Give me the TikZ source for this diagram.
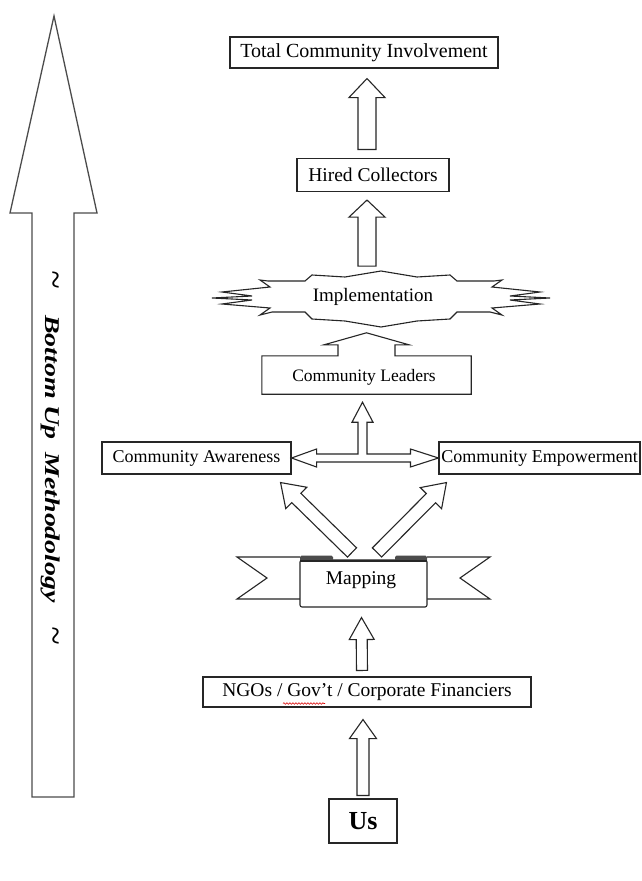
\documentclass[tikz,border=0pt]{standalone}
\usepackage{fontspec}
\setmainfont{Liberation Serif}
\usetikzlibrary{calc,decorations.pathmorphing}
\newcommand\fsz[1]{\fontsize{#1}{#1}\selectfont}
\newcommand\blockarrow[6]{%
  \coordinate (#6-s) at ($(#2)!#5!(#1)$);
  \draw[blk] ($(#1)!#3!90:(#2)$) -- ($(#6-s)!#3!90:(#2)$) -- ($(#6-s)!#4!90:(#2)$) -- (#2)
    -- ($(#6-s)!#4!-90:(#2)$) -- ($(#6-s)!#3!-90:(#2)$) -- ($(#1)!#3!-90:(#2)$) -- cycle;}
\tikzset{
  box/.style={draw=black!85, line width=1.1pt, fill=white, inner sep=0pt},
  plain/.style={inner sep=0pt},
  blk/.style={draw=black!85, line width=1.1pt, fill=white, line join=miter},
  big/.style={draw=black!70, line width=1.3pt, fill=white, line join=miter},
  tilde/.style={plain, rotate=-90, font=\fsz{21}\itshape},
}
\begin{document}
\begin{tikzpicture}[x=1pt,y=-1pt]
\useasboundingbox[fill=white] (0,0) rectangle (642,881);

% big left arrow
\draw[big] (32,797) -- (32,213) -- (10,213) -- (54,16) -- (97,213) -- (74,213) -- (74,797) -- cycle;
\node[tilde] (t1) at (51,280) {\scalebox{1.6}[1.8]{\textasciitilde}};
\node[plain, rotate=-90, font=\fsz{21}\bfseries\itshape] (bum) at (51,459)
  {\scalebox{1.33}[1]{Bottom Up\hspace{0.45em}Methodology}};
\node[tilde] (t2) at (51,636) {\scalebox{1.6}[1.8]{\textasciitilde}};

% boxes
\node[box, minimum width=268, minimum height=31, font=\fsz{20}] (tci) at (364,52.5) {Total Community Involvement};
\node[box, minimum width=152, minimum height=33, font=\fsz{19.5}] (hc) at (373,175) {Hired Collectors};

% implementation explosion
\draw[blk] (381,327) -- (345,321) -- (312,319) -- (305,312) -- (272,312) -- (260,315) -- (270,308)
  -- (222,304) -- (252,300) -- (212,298) -- (252,296) -- (222,292) -- (270,287) -- (260,280)
  -- (268,281) -- (305,281) -- (312,275) -- (345,277) -- (381,271) -- (417,277) -- (450,275)
  -- (457,281) -- (494,281) -- (502,280) -- (492,287) -- (540,292) -- (510,296) -- (550,298)
  -- (510,300) -- (540,304) -- (492,308) -- (502,315) -- (490,312) -- (457,312) -- (450,319)
  -- (417,321) -- cycle;
\node[plain, font=\fsz{19}] (impl) at (373,297) {Implementation};

% community leaders (callout box)
\node[plain, minimum width=209, minimum height=38] (cl) at (366.5,375) {};
\draw[blk] (cl.south west) -- (cl.north west) -- ($(cl.north)+(-28.5pt,0pt)$) -- ($(cl.north)+(-28.5pt,11pt)$)
  -- ($(cl.north)+(-42.5pt,11pt)$) -- ($(cl.north)+(0pt,23pt)$) -- ($(cl.north)+(42.5pt,11pt)$)
  -- ($(cl.north)+(28.5pt,11pt)$) -- ($(cl.north)+(28.5pt,0pt)$) -- (cl.north east) -- (cl.south east) -- cycle;
\node[plain, font=\fsz{17.5}] (clt) at (364,377) {Community Leaders};

\node[box, minimum width=189, minimum height=32, font=\fsz{18}] (ca) at (196.5,458) {Community Awareness};
\node[box, minimum width=201, minimum height=32, font=\fsz{18}] (ce) at (539.5,458) {Community Empowerment};

% mapping ribbon
\draw[blk] (300,557) -- (237,557) -- (267,578) -- (237,599) -- (300,599);
\draw[blk] (427,557) -- (490,557) -- (460,578) -- (490,599) -- (427,599);
\node[box, rounded corners=2pt, minimum width=127, minimum height=47, font=\fsz{19.5}] (map) at (363.5,583.5) {};
\node[plain, font=\fsz{19.5}] (mapt) at (361,580) {Mapping};
\fill[black!70, rounded corners=1.5pt] (300,555.5) rectangle (333,561);
\fill[black!70, rounded corners=1.5pt] (395,555.5) rectangle (427,561);
\draw[black!85, line width=1.1pt] (300,561) -- (427,561);

\node[box, minimum width=328, minimum height=30, font=\fsz{19.5}] (ngo) at (367,692) {NGOs / Gov’t / Corporate Financiers};
\draw[red!85!black, line width=0.6pt, decorate, decoration={snake, segment length=3pt, amplitude=0.8pt}] (283,703.5) -- (325,703.5);
\node[box, minimum width=68, minimum height=44, font=\fsz{26}\bfseries] (us) at (363,821) {Us};

% vertical block arrows
\coordinate (a1b) at ($(hc.north)+(-6pt,8.5pt)$);
\coordinate (a1t) at ($(tci.south)+(3pt,-10pt)$);
\blockarrow{a1b}{a1t}{9pt}{18pt}{19pt}{a1}
\coordinate (a2b) at ($(impl.north)+(-6pt,22pt)$);
\coordinate (a2t) at ($(hc.south)+(-6pt,-8pt)$);
\blockarrow{a2b}{a2t}{9pt}{18pt}{17pt}{a2}
\coordinate (a3b) at ($(ngo.north)+(-5pt,6pt)$);
\coordinate (a3t) at ($(map.south)+(-2pt,-10pt)$);
\blockarrow{a3b}{a3t}{5.5pt}{12.5pt}{22pt}{a3}
\coordinate (a4b) at ($(us.north)+(0pt,3pt)$);
\coordinate (a4t) at ($(ngo.south)+(-4pt,-12pt)$);
\blockarrow{a4b}{a4t}{6pt}{13.5pt}{19pt}{a4}

% diagonal arrows
\coordinate (d1b) at ($(map.north)+(-11.5pt,7pt)$);
\coordinate (d1t) at ($(ca.south east)+(-11pt,-8pt)$);
\blockarrow{d1b}{d1t}{6.5pt}{15pt}{22pt}{d1}
\coordinate (d2b) at ($(map.north)+(13.5pt,7pt)$);
\coordinate (d2t) at ($(ce.south west)+(8pt,-8pt)$);
\blockarrow{d2b}{d2t}{6.5pt}{15pt}{22pt}{d2}

% T arrow
\coordinate (tL) at (ca.east);
\coordinate (tR) at (ce.west);
\coordinate (tU) at ($(cl.south)+(-4pt,-8pt)$);
\coordinate (tJ) at (tU |- tL);
\draw[blk] (tL) -- ($(tL)+(25pt,9pt)$) -- ($(tL)+(25pt,4pt)$) -- ($(tJ)+(-4.5pt,4pt)$)
  -- ($(tU)+(-4.5pt,-20pt)$) -- ($(tU)+(-10.5pt,-20pt)$) -- (tU) -- ($(tU)+(10.5pt,-20pt)$)
  -- ($(tU)+(4.5pt,-20pt)$) -- ($(tJ)+(4.5pt,4pt)$) -- ($(tR)+(-28pt,4pt)$) -- ($(tR)+(-28pt,9pt)$)
  -- (tR) -- ($(tR)+(-28pt,-9pt)$) -- ($(tR)+(-28pt,-4pt)$) -- ($(tL)+(25pt,-4pt)$)
  -- ($(tL)+(25pt,-9pt)$) -- cycle;
\end{tikzpicture}
\end{document}
